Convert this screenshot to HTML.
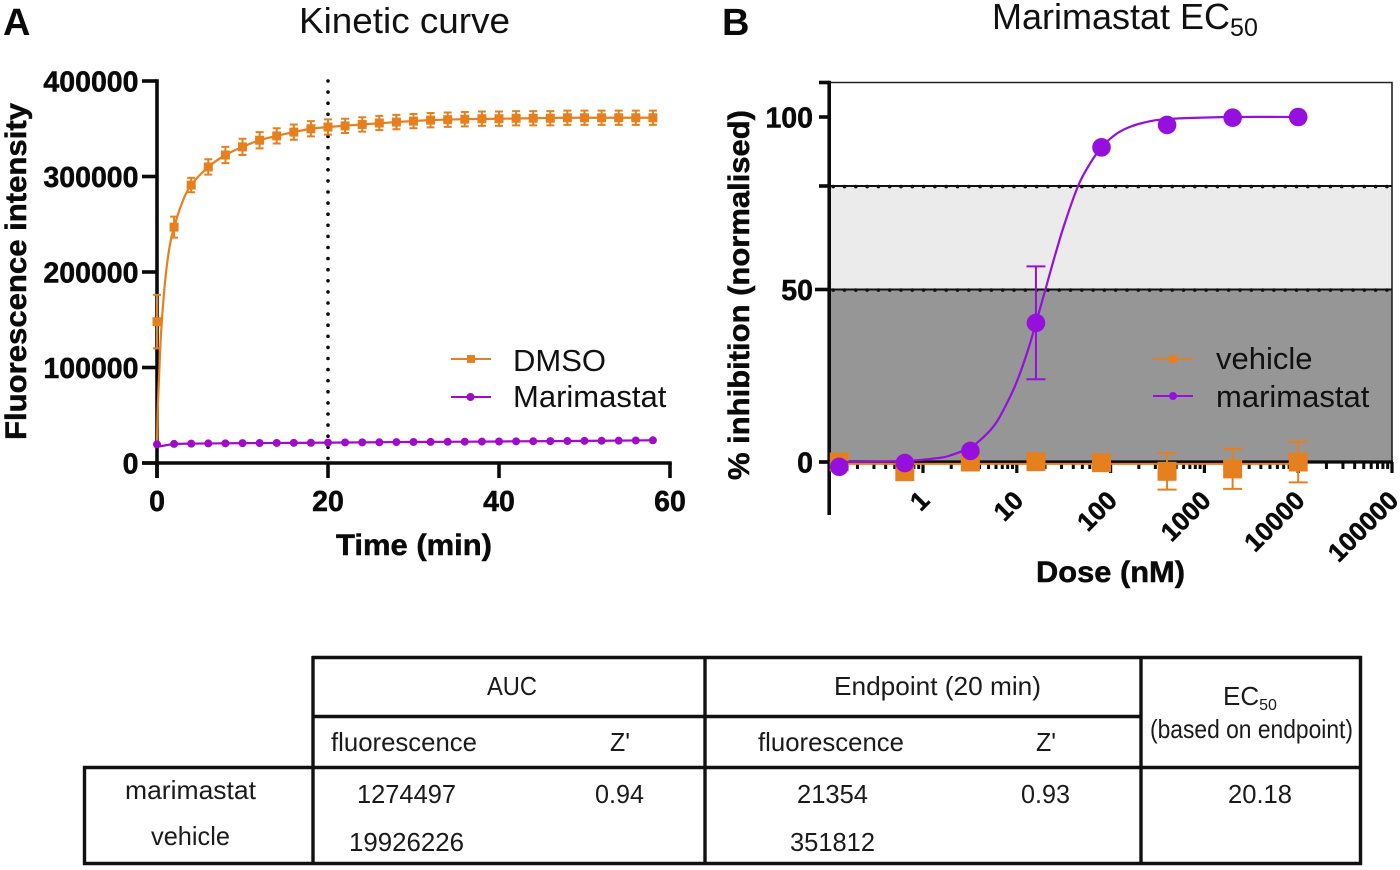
<!DOCTYPE html>
<html lang="en">
<head>
<meta charset="utf-8">
<title>Kinetic curve and Marimastat EC50</title>
<style>
html,body{margin:0;padding:0;background:#fff;}
svg{display:block;font-family:"Liberation Sans",sans-serif;}
.tick{font-weight:700;font-size:28.5px;fill:#0a0a0a;stroke:#0a0a0a;stroke-width:.5px;}
.tickd{font-weight:700;font-size:26px;fill:#0a0a0a;stroke:#0a0a0a;stroke-width:.5px;}
.axt{font-weight:700;font-size:30px;fill:#0a0a0a;stroke:#0a0a0a;stroke-width:.5px;}
.title{font-size:36px;fill:#111;}
.panel{font-weight:700;font-size:38px;fill:#0a0a0a;}
.leg{font-size:31px;fill:#111;}
.cell{font-size:26px;fill:#1a1a1a;}
</style>
</head>
<body>
<svg id="fig" width="1400" height="870" viewBox="0 0 1400 870" xmlns="http://www.w3.org/2000/svg">
  <text class="panel" x="3" y="35">A</text>
  <text class="panel" x="722" y="35">B</text>
  <text class="title" x="299" y="33" textLength="211" lengthAdjust="spacingAndGlyphs">Kinetic curve</text>
  <text class="title" x="992" y="29">Marimastat EC<tspan dy="7" font-size="25">50</tspan></text>
  <g id="chartA"></g>
  <g id="chartB"></g>
  <text class="axt" transform="translate(26,440) rotate(-90)" textLength="337" lengthAdjust="spacingAndGlyphs">Fluorescence intensity</text>
  <text class="axt" x="336" y="555" textLength="156" lengthAdjust="spacingAndGlyphs">Time (min)</text>
  <text class="axt" transform="translate(749,480) rotate(-90)" textLength="370" lengthAdjust="spacingAndGlyphs">% inhibition (normalised)</text>
  <text class="axt" x="1036" y="582" textLength="149" lengthAdjust="spacingAndGlyphs">Dose (nM)</text>
  <g>
    <line x1="451" x2="491" y1="359" y2="359" stroke="#e6801e" stroke-width="2"/>
    <rect x="467" y="355" width="8" height="8" fill="#e6801e"/>
    <text class="leg" x="513" y="371">DMSO</text>
    <line x1="451" x2="491" y1="397" y2="397" stroke="#a00bc9" stroke-width="2"/>
    <circle cx="470.500" cy="397" r="4" fill="#a00bc9"/>
    <text class="leg" x="513" y="407">Marimastat</text>
  </g>
  <g>
    <line x1="1153" x2="1193" y1="359" y2="359" stroke="#e6801e" stroke-width="2"/>
    <rect x="1169" y="355" width="8" height="8" fill="#e6801e"/>
    <text class="leg" x="1216" y="369">vehicle</text>
    <line x1="1153" x2="1193" y1="396" y2="396" stroke="#9510dc" stroke-width="2"/>
    <circle cx="1173" cy="396" r="4" fill="#9510dc"/>
    <text class="leg" x="1216" y="407">marimastat</text>
  </g>
  <g stroke="#111" stroke-width="3.4">
    <line x1="312" x2="1362" y1="657.500" y2="657.500"/>
    <line x1="313" x2="1141" y1="716.500" y2="716.500"/>
    <line x1="83" x2="1362" y1="767.500" y2="767.500"/>
    <line x1="83" x2="1362" y1="863.500" y2="863.500"/>
    <line x1="84.500" x2="84.500" y1="766" y2="865"/>
    <line x1="313" x2="313" y1="656" y2="865"/>
    <line x1="705" x2="705" y1="656" y2="865"/>
    <line x1="1141" x2="1141" y1="656" y2="865"/>
    <line x1="1360.500" x2="1360.500" y1="656" y2="865"/>
  </g>
  <g>
    <text class="cell" x="487" y="695" textLength="50" lengthAdjust="spacingAndGlyphs">AUC</text>
    <text class="cell" x="834" y="695" textLength="207" lengthAdjust="spacingAndGlyphs">Endpoint (20 min)</text>
    <text class="cell" x="1223" y="705">EC<tspan dy="5" font-size="16">50</tspan></text>
    <text class="cell" x="1150" y="738" textLength="203" lengthAdjust="spacingAndGlyphs">(based on endpoint)</text>
    <text class="cell" x="331" y="751" textLength="146" lengthAdjust="spacingAndGlyphs">fluorescence</text>
    <text class="cell" x="610" y="751" textLength="20" lengthAdjust="spacingAndGlyphs">Z'</text>
    <text class="cell" x="758" y="751" textLength="146" lengthAdjust="spacingAndGlyphs">fluorescence</text>
    <text class="cell" x="1036" y="751" textLength="20" lengthAdjust="spacingAndGlyphs">Z'</text>
    <text class="cell" x="125" y="799" textLength="131" lengthAdjust="spacingAndGlyphs">marimastat</text>
    <text class="cell" x="151" y="845" textLength="79" lengthAdjust="spacingAndGlyphs">vehicle</text>
    <text class="cell" x="357" y="803" textLength="99" lengthAdjust="spacingAndGlyphs">1274497</text>
    <text class="cell" x="595" y="803" textLength="49" lengthAdjust="spacingAndGlyphs">0.94</text>
    <text class="cell" x="797" y="803" textLength="71" lengthAdjust="spacingAndGlyphs">21354</text>
    <text class="cell" x="1021" y="803" textLength="49" lengthAdjust="spacingAndGlyphs">0.93</text>
    <text class="cell" x="1228" y="803" textLength="64" lengthAdjust="spacingAndGlyphs">20.18</text>
    <text class="cell" x="349" y="851" textLength="115" lengthAdjust="spacingAndGlyphs">19926226</text>
    <text class="cell" x="790" y="851" textLength="85" lengthAdjust="spacingAndGlyphs">351812</text>
  </g>
</svg>
<script>
// ---- Chart A data ----
const timePoints = [0,2,4,6,8,10,12,14,16,18,20,22,24,26,28,30,32,34,36,38,40,42,44,46,48,50,52,54,56,58];
const dmsoValues = [148000,247000,291000,310000,322500,331000,338000,342500,346500,350000,351812,353000,354500,356000,357000,358000,359000,359500,360000,360500,360500,361000,361000,361000,361500,361500,361500,361500,361500,361500];
const dmsoErrors = [28000,11000,7500,8000,8500,8500,8500,8000,8000,8000,8000,7500,7500,7500,7500,7500,7500,7500,7500,7500,7500,7500,7500,7500,7500,7500,7500,7500,7500,7500];
const marimastatValues = [19500,20000,20300,20500,20600,20800,20900,21000,21100,21200,21354,21500,21600,21700,21900,22000,22100,22200,22300,22400,22500,22700,22800,22900,23000,23200,23300,23400,23600,23800];
const dmsoFitTime = [0,0.08,0.25,0.5,1,1.5,2,3,4,6,8,10,12,14,16,18,20,24,28,32,36,40,44,48,52,58];
const dmsoFitValues = [20000,55000,92000,140000,195000,228000,247000,274000,291000,310000,322500,331000,338000,342500,346500,350000,351800,354500,357000,359000,360000,360500,361000,361500,361500,361500];
const marimastatFitStart = 17000;
const timeTicks = [0,20,40,60];
const timeTickLabels = ['0','20','40','60'];
const fluorTicks = [0,100000,200000,300000,400000];
const fluorTickLabels = ['0','100000','200000','300000','400000'];
const endpointTime = [20];

// ---- Chart B data ----
const doses = [0.128,0.64,3.2,16,80,400,2000,10000];
const marimastatInhibition = [-1.4,-0.3,3.2,40.3,91.2,97.7,99.8,100];
const marimastatUpperErr = [0,0,0,16.4,0,0,0,0];
const marimastatLowerErr = [0,0,0,16.3,0,0,0,0];
const vehicleInhibition = [0,-2.8,0,0.1,-0.2,-2.7,-2,0];
const vehicleErrors = [0,0,0,0,0,5.3,5.8,5.9];
const vehicleFitDose = [0.128,10000];
const vehicleFitValues = [-0.3,-0.3];
const marimastatFitDose = [0.128,0.64,1.5,2,3.2,4.5,6,8,10,13,16,20,25,32,45,60,80,110,150,220,400,2000,10000];
const marimastatFitValues = [0,0.3,1.2,2,4.2,7.4,11.3,17.5,23.3,32,40.3,49.6,59,68.7,80,86.4,91.2,94.7,96.8,98.3,99.4,100,100];
const doseDecades = [0.1,1,10,100,1000,10000,100000];
const doseTickLabels = ['','1','10','100','1000','10000','100000'];
const minorMultipliers = [2,3,4,5,6,7,8,9];
const inhibitionTicks = [100,50,0];
const inhibitionTickLabels = ['100','50','0'];
const inhibitionMinorTicks = [110,80];
const hitBands = [[80,50,'#ebebeb'],[50,0,'#969696']];
const referenceLevels = [80,50];

const NS = 'http://www.w3.org/2000/svg';
const ORANGE = '#e6801e', PURPLE_A = '#a00bc9', PURPLE_B = '#9510dc', INK = '#0a0a0a';
const AXW = 3.6;

function mk(parent, tag, attrs, text) {
  const el = document.createElementNS(NS, tag);
  for (const k in attrs) el.setAttribute(k, attrs[k]);
  if (text !== undefined) el.textContent = text;
  parent.appendChild(el);
  return el;
}
function smooth(pts) {
  let d = 'M' + pts[0][0].toFixed(2) + ' ' + pts[0][1].toFixed(2);
  for (let i = 0; i < pts.length - 1; i++) {
    const p0 = pts[Math.max(i - 1, 0)], p1 = pts[i], p2 = pts[i + 1], p3 = pts[Math.min(i + 2, pts.length - 1)];
    const c1x = p1[0] + (p2[0] - p0[0]) / 6, c1y = p1[1] + (p2[1] - p0[1]) / 6;
    const c2x = p2[0] - (p3[0] - p1[0]) / 6, c2y = p2[1] - (p3[1] - p1[1]) / 6;
    d += 'C' + c1x.toFixed(2) + ' ' + c1y.toFixed(2) + ' ' + c2x.toFixed(2) + ' ' + c2y.toFixed(2) + ' ' + p2[0].toFixed(2) + ' ' + p2[1].toFixed(2);
  }
  return d;
}

// ---- Chart A ----
const A = document.getElementById('chartA');
const xA = t => 157 + t * (670 - 157) / 60;
const yA = v => 463 - v * (463 - 81) / 400000;

const ay = mk(A, 'line', {x1: xA(0), x2: xA(0), y1: yA(400000) - 1.8, y2: 478, stroke: INK, 'stroke-width': AXW});


const ax = mk(A, 'line', {x1: 142, x2: xA(60) + 1.8, y1: yA(0), y2: yA(0), stroke: INK, 'stroke-width': AXW});



fluorTicks.forEach((v, i) => {
  const t = mk(A, 'line', {x1: 142, x2: xA(0), y1: yA(v), y2: yA(v), stroke: INK, 'stroke-width': AXW});
  
  
  const l = mk(A, 'text', {class: 'tick', x: 138.5, y: yA(v) + 10.5, 'text-anchor': 'end'}, fluorTickLabels[i]);
  
  
});
timeTicks.forEach((v, i) => {
  const t = mk(A, 'line', {x1: xA(v), x2: xA(v), y1: yA(0), y2: 478, stroke: INK, 'stroke-width': AXW});
  
  
  const l = mk(A, 'text', {class: 'tick', x: xA(v), y: 511, 'text-anchor': 'middle'}, timeTickLabels[i]);
  
  
});
endpointTime.forEach(v => {
  const d = mk(A, 'line', {x1: xA(v), x2: xA(v), y1: yA(400000), y2: yA(0), stroke: INK, 'stroke-width': 3.6, 'stroke-linecap': 'round', 'stroke-dasharray': '0 11.1'});
  
  
});

const dmsoCurve = mk(A, 'path', {d: smooth(dmsoFitTime.map((t, i) => [xA(t), yA(dmsoFitValues[i])])), fill: 'none', stroke: ORANGE, 'stroke-width': 2.2});



timePoints.forEach((t, i) => {
  const x = xA(t), v = dmsoValues[i], e = dmsoErrors[i];
  const eb = mk(A, 'path', {d: 'M' + x + ' ' + yA(v + e) + 'V' + yA(v - e) + 'M' + (x - 4) + ' ' + yA(v + e) + 'h8M' + (x - 4) + ' ' + yA(v - e) + 'h8', fill: 'none', stroke: ORANGE, 'stroke-width': 2});
  
  
  const m = mk(A, 'rect', {x: x - 4.5, y: yA(v) - 4.5, width: 9, height: 9, fill: ORANGE});
  
  
});

const mariLine = mk(A, 'path', {d: 'M' + xA(timePoints[0]) + ' ' + yA(marimastatFitStart) + timePoints.slice(1).map((t, i) => 'L' + xA(t) + ' ' + yA(marimastatValues[i + 1])).join(''), fill: 'none', stroke: PURPLE_A, 'stroke-width': 2.2});


timePoints.forEach((t, i) => {
  const m = mk(A, 'circle', {cx: xA(t), cy: yA(marimastatValues[i]), r: 4, fill: PURPLE_A});
  
  
});

// ---- Chart B ----
const B = document.getElementById('chartB');
const xB = d => 923 + Math.log10(d) * 93.8;
const yB = v => 462 - v * 3.45;

hitBands.forEach(b => {
  const r = mk(B, 'rect', {x: xB(0.1), y: yB(b[0]), width: xB(100000) - xB(0.1), height: yB(b[1]) - yB(b[0]), fill: b[2]});
  
  
});
const frame = mk(B, 'path', {d: 'M' + xB(0.1) + ' ' + yB(110) + 'H' + xB(100000) + 'V' + yB(0), fill: 'none', stroke: '#222', 'stroke-width': 1.6});



referenceLevels.forEach(v => {
  const l = mk(B, 'line', {x1: xB(0.1), x2: xB(100000), y1: yB(v), y2: yB(v), stroke: '#111', 'stroke-width': 2});
  
  
  const d = mk(B, 'line', {x1: xB(0.1) + 4, x2: xB(100000), y1: yB(v) + 0.6, y2: yB(v) + 0.6, stroke: '#111', 'stroke-width': 3.6, 'stroke-linecap': 'round', 'stroke-dasharray': '0 11.3'});
  
  
});

const byAxis = mk(B, 'line', {x1: xB(0.1), x2: xB(0.1), y1: yB(110) - 1.8, y2: 515, stroke: INK, 'stroke-width': AXW});


const bxAxis = mk(B, 'line', {x1: 819, x2: xB(100000) + 1, y1: yB(0), y2: yB(0), stroke: INK, 'stroke-width': 3.2});



inhibitionTicks.forEach((v, i) => {
  const t = mk(B, 'line', {x1: v === 50 ? 815 : 819, x2: xB(0.1), y1: yB(v), y2: yB(v), stroke: INK, 'stroke-width': AXW});
  
  
  const l = mk(B, 'text', {class: 'tick', x: 813, y: yB(v) + 10.5, 'text-anchor': 'end'}, inhibitionTickLabels[i]);
  
  
});
inhibitionMinorTicks.forEach(v => {
  const t = mk(B, 'line', {x1: 819, x2: xB(0.1), y1: yB(v), y2: yB(v), stroke: INK, 'stroke-width': AXW});
  
  
});
doseDecades.forEach((d, i) => {
  if (i > 0) {
    const t = mk(B, 'line', {x1: xB(d), x2: xB(d), y1: yB(0), y2: 473, stroke: INK, 'stroke-width': 3.2});
    
    
    const lx = xB(d) + 8, ly = 502;
    const l = mk(B, 'text', {class: 'tickd', x: lx, y: ly, 'text-anchor': 'end', transform: 'rotate(-45 ' + lx + ' ' + ly + ')'}, doseTickLabels[i]);
    
    
  }
  if (i < doseDecades.length - 1) {
    minorMultipliers.forEach(m => {
      const t = mk(B, 'line', {x1: xB(d * m), x2: xB(d * m), y1: yB(0), y2: 469, stroke: INK, 'stroke-width': 3});
      
      
    });
  }
});

const vehLine = mk(B, 'line', {x1: xB(vehicleFitDose[0]), x2: xB(vehicleFitDose[1]), y1: yB(vehicleFitValues[0]) + 0.8, y2: yB(vehicleFitValues[1]) + 0.8, stroke: ORANGE, 'stroke-width': 2});


doses.forEach((d, i) => {
  const x = xB(d), v = vehicleInhibition[i], e = vehicleErrors[i];
  if (e > 0) {
    const eb = mk(B, 'path', {d: 'M' + x + ' ' + yB(v + e) + 'V' + yB(v - e) + 'M' + (x - 9.5) + ' ' + yB(v + e) + 'h19M' + (x - 9.5) + ' ' + yB(v - e) + 'h19', fill: 'none', stroke: ORANGE, 'stroke-width': 2});
    
    
  }
  const m = mk(B, 'rect', {x: x - 9.5, y: yB(v) - 9.5, width: 19, height: 19, fill: ORANGE});
  
  
});

const mariCurve = mk(B, 'path', {d: smooth(marimastatFitDose.map((d, i) => [xB(d), yB(marimastatFitValues[i])])), fill: 'none', stroke: PURPLE_B, 'stroke-width': 2.2});


doses.forEach((d, i) => {
  const x = xB(d), v = marimastatInhibition[i], up = marimastatUpperErr[i], lo = marimastatLowerErr[i];
  if (up > 0 || lo > 0) {
    const eb = mk(B, 'path', {d: 'M' + x + ' ' + yB(v + up) + 'V' + yB(v - lo) + 'M' + (x - 9.5) + ' ' + yB(v + up) + 'h19M' + (x - 9.5) + ' ' + yB(v - lo) + 'h19', fill: 'none', stroke: PURPLE_B, 'stroke-width': 2});
    
    
  }
  const m = mk(B, 'circle', {cx: x, cy: yB(v), r: 9.3, fill: PURPLE_B});
  
  
});
</script>
</body>
</html>
